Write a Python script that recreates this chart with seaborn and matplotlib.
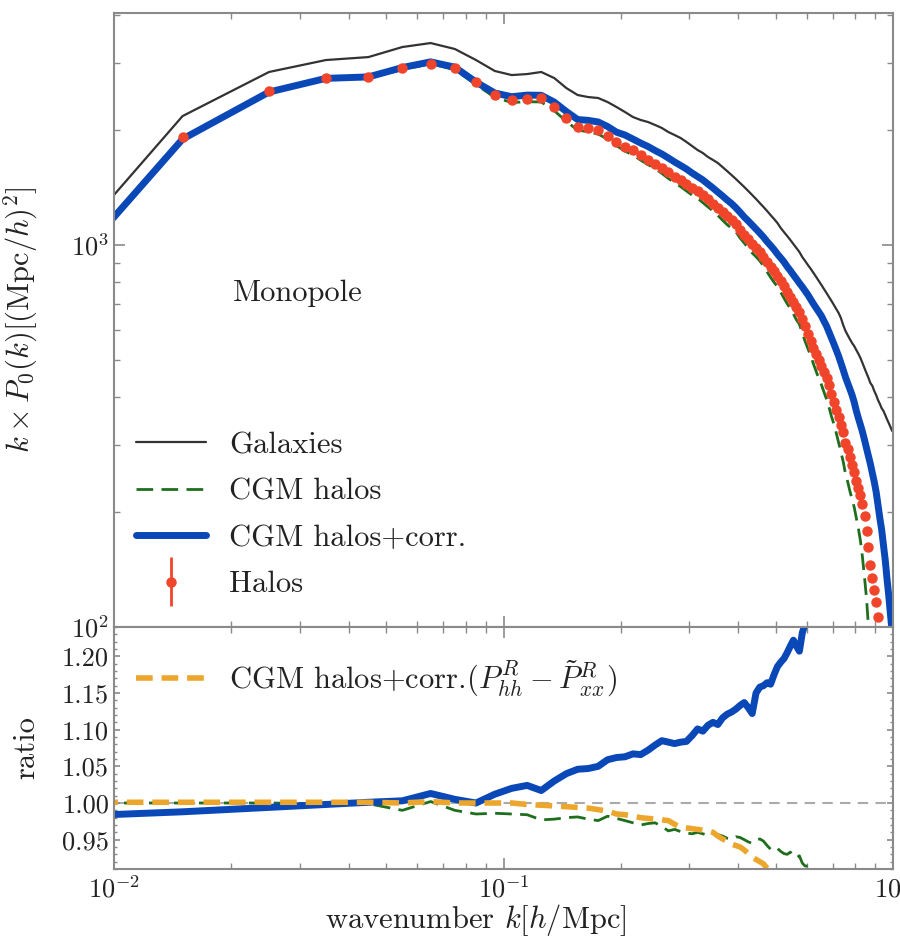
import numpy as np
import matplotlib
matplotlib.use("Agg")
import matplotlib.pyplot as plt
from matplotlib.ticker import MultipleLocator, FormatStrFormatter, LogLocator, NullFormatter
from matplotlib.container import ErrorbarContainer
from matplotlib.legend_handler import HandlerErrorbar
import seaborn as sns

# ---------------- data ----------------
k = np.round(np.arange(0.005, 1.0, 0.01), 3)  # bin centres, h/Mpc

galaxies = [600, 2176, 2838, 3050, 3105, 3299, 3379, 3260, 3050, 2855,
            2786, 2803, 2838, 2736, 2576, 2470, 2440, 2426, 2368, 2298,
            2230, 2163, 2125, 2099, 2062, 2025, 1976, 1941, 1906, 1861,
            1816, 1773, 1741, 1700, 1670, 1640, 1600, 1562, 1525, 1489,
            1453, 1419, 1385, 1352, 1320, 1288, 1258, 1228, 1198, 1170,
            1142, 1108, 1081, 1056, 1031, 1006, 982, 959, 930, 908,
            886, 866, 845, 825, 805, 786, 767, 749, 731, 714,
            697, 680, 664, 644, 617, 596, 581, 567, 554, 544,
            531, 519, 506, 491, 476, 462, 449, 435, 428, 415,
            405, 393, 384, 374, 368, 359, 350, 342, 334, 326]

cgm_halos = [530, 1917, 2530, 2733, 2749, 2877, 2984, 2877, 2631, 2435,
             2361, 2372, 2369, 2247, 2107, 1998, 1980, 1952, 1894, 1821,
             1762, 1720, 1668, 1623, 1586, 1540, 1494, 1457, 1422, 1385,
             1351, 1326, 1291, 1258, 1228, 1196, 1162, 1131, 1106, 1083,
             1043, 1012, 982, 953, 932, 909, 882, 851, 823, 799,
             778, 752, 726, 702, 682, 660, 637, 621, 588, 559,
             535, 512, 488, 467, 447, 431, 412, 395, 376, 356,
             340, 322, 304, 287, 271, 252, 240, 227, 216, 206,
             193, 181, 168, 152, 135, 119, 100, 90, 82, 75,
             70, 65, 60, 56, 52, 49, 46, 43, 40, 38]

cgm_halos_corr = [530, 1894, 2515, 2731, 2755, 2915, 3017, 2921, 2671, 2500,
                  2445, 2469, 2466, 2367, 2236, 2131, 2120, 2100, 2043, 1975,
                  1941, 1894, 1849, 1811, 1768, 1731, 1690, 1650, 1615, 1581,
                  1543, 1511, 1480, 1444, 1410, 1376, 1344, 1312, 1284, 1252,
                  1218, 1184, 1156, 1128, 1101, 1075, 1049, 1021, 997, 973,
                  947, 925, 903, 878, 857, 835, 815, 795, 777, 758,
                  740, 720, 701, 684, 668, 652, 632, 614, 592, 571,
                  551, 531, 512, 491, 471, 451, 435, 420, 405, 388,
                  368, 352, 338, 324, 309, 294, 280, 267, 253, 240,
                  226, 209, 193, 180, 164, 150, 134, 121, 108, 97]

halos = [530, 1917, 2530, 2736, 2752, 2906, 2978, 2906, 2671, 2470,
         2397, 2411, 2425, 2298, 2150, 2037, 2025, 2000, 1929, 1860,
         1805, 1768, 1720, 1670, 1630, 1591, 1553, 1511, 1480, 1444,
         1410, 1381, 1348, 1316, 1280, 1250, 1217, 1188, 1163, 1135,
         1095, 1065, 1037, 1009, 982, 956, 930, 903, 878, 855,
         829, 805, 780, 755, 731, 710, 689, 669, 641, 612,
         585, 561, 539, 519, 499, 481, 464, 449, 429, 408,
         388, 371, 354, 338, 323, 303, 292, 278, 266, 255,
         241, 231, 222, 210, 195, 178, 162, 145, 134, 125,
         116, 106, 95, 88, 82, 76, 71, 66, 62, 58]
halos_rel_err = 0.008

# ratio panel (relative to Halos)
ratio_corr = [0.978, 0.988, 0.994, 0.998, 1.001, 1.003, 1.013, 1.005, 1.000, 1.012,
              1.020, 1.024, 1.017, 1.030, 1.040, 1.046, 1.047, 1.050, 1.059, 1.062,
              1.063, 1.067, 1.066, 1.072, 1.079, 1.085, 1.083, 1.081, 1.083, 1.084,
              1.092, 1.101, 1.098, 1.106, 1.110, 1.107, 1.116, 1.121, 1.124, 1.128,
              1.133, 1.137, 1.130, 1.122, 1.150, 1.158, 1.160, 1.164, 1.162, 1.175,
              1.186, 1.192, 1.197, 1.205, 1.214, 1.222, 1.214, 1.207, 1.232, 1.245,
              1.260, 1.270]
ratio_cgm = [1.000, 1.000, 1.000, 0.999, 0.999, 0.990, 1.002, 0.990, 0.985, 0.986,
             0.985, 0.984, 0.977, 0.978, 0.980, 0.981, 0.978, 0.976, 0.982, 0.979,
             0.976, 0.973, 0.970, 0.972, 0.973, 0.968, 0.962, 0.964, 0.961, 0.959,
             0.958, 0.960, 0.958, 0.956, 0.959, 0.957, 0.955, 0.952, 0.951, 0.954,
             0.953, 0.950, 0.947, 0.945, 0.949, 0.951, 0.948, 0.942, 0.937, 0.935,
             0.938, 0.934, 0.931, 0.930, 0.933, 0.929, 0.925, 0.928, 0.918, 0.914,
             0.914, 0.912, 0.906, 0.900]
ratio_corr_sub = [1.001, 1.001, 1.001, 1.001, 1.001, 1.000, 1.002, 1.000, 1.000, 1.000,
                  1.000, 0.998, 0.997, 0.996, 0.995, 0.994, 0.993, 0.991, 0.989, 0.985,
                  0.984, 0.982, 0.980, 0.979, 0.978, 0.977, 0.976, 0.971, 0.967, 0.966,
                  0.965, 0.964, 0.963, 0.962, 0.960, 0.955, 0.951, 0.948, 0.944, 0.942,
                  0.940, 0.936, 0.931, 0.926, 0.923, 0.920, 0.917, 0.911, 0.905, 0.899]

# ---------------- style ----------------
sns.set_theme(style="ticks")
plt.rcParams.update({
    "font.family": ["cmr10", "DejaVu Serif"],
    "mathtext.fontset": "cm",
    "axes.formatter.use_mathtext": True,
    "axes.unicode_minus": True,
    "axes.edgecolor": "#8a8a8a",
    "axes.linewidth": 1.5,
    "xtick.color": "#8a8a8a",
    "ytick.color": "#8a8a8a",
    "xtick.labelcolor": "#222222",
    "ytick.labelcolor": "#222222",
})

C_BLACK = "#333333"
C_GREEN = "#1e6e1e"
C_BLUE = "#0a48b8"
C_RED = "#f0452a"
C_ORANGE = "#eda62c"

fig = plt.figure(figsize=(9, 9.43), dpi=100)
W, H = 900.0, 943.0
ax1 = fig.add_axes([114 / W, 1 - 627 / H, 779 / W, 614 / H])
ax2 = fig.add_axes([114 / W, 1 - 869 / H, 779 / W, 242 / H], sharex=ax1)

# ---------------- top panel ----------------
sns.lineplot(x=k, y=galaxies, ax=ax1, color=C_BLACK, lw=1.6, label="Galaxies",
             estimator=None, sort=False)
sns.lineplot(x=k, y=cgm_halos, ax=ax1, color=C_GREEN, lw=2.0, label="CGM halos",
             estimator=None, sort=False)
ax1.lines[-1].set_linestyle((0, (6, 3)))
sns.lineplot(x=k, y=cgm_halos_corr, ax=ax1, color=C_BLUE, lw=5.0,
             label="CGM halos+corr.", estimator=None, sort=False)
halos_arr = np.array(halos, dtype=float)
ax1.errorbar(k, halos_arr, yerr=halos_arr * halos_rel_err, fmt="o", color=C_RED,
             ms=6.5, mec=C_RED, elinewidth=2, capsize=0, label="Halos", zorder=5)

ax1.set_xscale("log")
ax1.set_yscale("log")
ax1.set_xlim(0.01, 1.0)
ax1.set_ylim(100, 4050)
ax1.set_ylabel(r"$k \times P_0(k) [(\mathrm{Mpc}/h)^2]$", fontsize=22, color="#222222")
ax1.yaxis.set_label_coords(-0.095, 0.5)
ax1.text(0.153, 0.544, "Monopole", transform=ax1.transAxes, fontsize=22,
         va="center", ha="left", color="#222222")

h, l = ax1.get_legend_handles_labels()
order = ["Galaxies", "CGM halos", "CGM halos+corr.", "Halos"]
hd = dict(zip(l, h))
ax1.legend([hd[o] for o in order], order, loc="upper left",
           bbox_to_anchor=(0.028, 0.318), frameon=False, fontsize=22,
           handlelength=2.3, handletextpad=0.75, labelspacing=0.62,
           borderpad=0, borderaxespad=0, labelcolor="#222222",
           handler_map={ErrorbarContainer: HandlerErrorbar(xerr_size=0.5, yerr_size=0.8)})
plt.setp(ax1.get_xticklabels(), visible=False)

# ---------------- ratio panel ----------------
sns.lineplot(x=k[:len(ratio_cgm)], y=ratio_cgm, ax=ax2, color=C_GREEN, lw=2.0,
             estimator=None, sort=False)
ax2.lines[-1].set_linestyle((0, (6, 3)))
sns.lineplot(x=k[:len(ratio_corr)], y=ratio_corr, ax=ax2, color=C_BLUE, lw=5.0,
             estimator=None, sort=False)
sns.lineplot(x=k[:len(ratio_corr_sub)], y=ratio_corr_sub, ax=ax2, color=C_ORANGE,
             lw=4.0, estimator=None, sort=False,
             label=r"CGM halos+corr.$(P_{hh}^R - \tilde{P}_{xx}^R)$")
ax2.lines[-1].set_linestyle((0, (3, 1.6)))
ax2.axhline(1.0, color="#aaaaaa", lw=1.5, ls=(0, (5, 3.5)), zorder=0)

ax2.set_ylim(0.91, 1.24)
ax2.yaxis.set_major_locator(MultipleLocator(0.05))
ax2.yaxis.set_minor_locator(MultipleLocator(0.01))
ax2.yaxis.set_major_formatter(FormatStrFormatter("%.2f"))
ax2.set_ylabel("ratio", fontsize=22, color="#222222")
ax2.yaxis.set_label_coords(-0.095, 0.5)
ax2.set_xlabel(r"wavenumber $k[h/\mathrm{Mpc}]$", fontsize=22, color="#222222")
ax2.xaxis.set_label_coords(0.465, -0.135)
ax2.legend(loc="upper left", bbox_to_anchor=(0.028, 0.87), frameon=False,
           fontsize=22, handlelength=2.3, handletextpad=0.75, borderpad=0,
           borderaxespad=0, labelcolor="#222222")

for ax in (ax1, ax2):
    ax.tick_params(which="both", direction="in", top=True, right=True)
    ax.tick_params(which="major", length=8, width=1.2, labelsize=19)
    ax.tick_params(which="minor", length=4, width=1.0)
    for s in ax.spines.values():
        s.set_visible(True)
ax2.tick_params(axis="y", which="major", length=4)
ax2.tick_params(axis="y", which="minor", length=2)
ax2.xaxis.set_major_locator(LogLocator(base=10, numticks=10))
ax2.xaxis.set_minor_locator(LogLocator(base=10, subs=np.arange(2, 10), numticks=10))
ax2.xaxis.set_minor_formatter(NullFormatter())
ax1.yaxis.set_minor_formatter(NullFormatter())
ax2.tick_params(axis="x", pad=5)

fig.savefig("out.png", dpi=100)
